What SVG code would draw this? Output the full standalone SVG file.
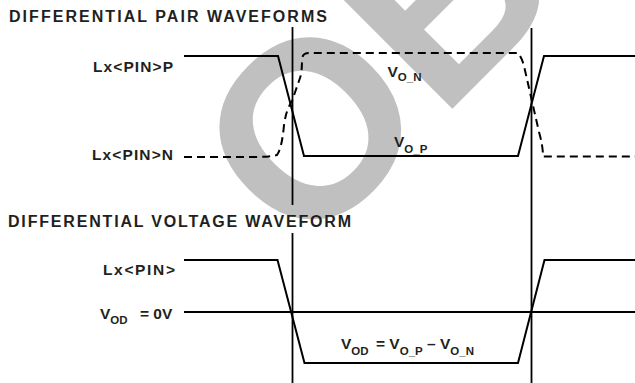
<svg xmlns="http://www.w3.org/2000/svg" width="635" height="383" viewBox="0 0 635 383">
<style>
.t{font-family:"Liberation Sans",Arial,Helvetica,sans-serif;font-weight:bold;fill:#231f20}
.ttl{font-size:16px}
.lb{font-size:15.5px}
.sub{font-size:11.5px}
.w{fill:none;stroke:#000;stroke-width:2;stroke-linejoin:miter}
.d{stroke-dasharray:8 5}
.v{fill:none;stroke:#000;stroke-width:1.8}
.wm{font-family:"Liberation Sans",Arial,sans-serif;font-weight:bold;font-size:250px;fill:#c0c0c0}
</style>
<g id="watermark">
<text class="wm" transform="translate(303,258) rotate(-45)" x="0" y="0">OB</text>
</g>
<g id="titles">
<text id="title-pair" class="t ttl" x="9" y="22" textLength="318" lengthAdjust="spacing">DIFFERENTIAL PAIR WAVEFORMS</text>
<text id="title-diff" class="t ttl" x="8" y="227" textLength="343" lengthAdjust="spacing">DIFFERENTIAL VOLTAGE WAVEFORM</text>
</g>
<g id="labels">
<text id="lbl-p" class="t lb" x="173" y="71.5" text-anchor="end" textLength="80" lengthAdjust="spacing">Lx&lt;PIN&gt;P</text>
<text id="lbl-n" class="t lb" x="173" y="160" text-anchor="end" textLength="81" lengthAdjust="spacing">Lx&lt;PIN&gt;N</text>
<text id="lbl-pin" class="t lb" x="175" y="275" text-anchor="end" textLength="72" lengthAdjust="spacing">Lx&lt;PIN&gt;</text>
<text id="lbl-vod0" class="t lb" x="100" y="318.5">V<tspan class="sub" dy="5">OD</tspan><tspan dy="-5" x="140">= 0V</tspan></text>
<text id="lbl-von" class="t lb" x="387.5" y="76.5">V<tspan class="sub" dy="4.5">O_N</tspan></text>
<text id="lbl-vop" class="t lb" x="394" y="147">V<tspan class="sub" dy="6">O_P</tspan></text>
<text id="lbl-vod" class="t lb" x="341" y="348.5">V<tspan class="sub" dy="6">OD</tspan><tspan dy="-6" x="376">= V</tspan><tspan class="sub" dy="6">O_P</tspan><tspan dy="-6"> – V</tspan><tspan class="sub" dy="6">O_N</tspan></text>
</g>
<g id="connectors">
<line id="mark-1a" class="v" x1="292.5" y1="27" x2="292.5" y2="205"/>
<line id="mark-1b" class="v" x1="292.5" y1="233" x2="292.5" y2="383"/>
<line id="mark-2" class="v" x1="531.5" y1="28" x2="531.5" y2="383"/>
<path id="wave-p" class="w" d="M184,56 L278,56 L304,156 L518,156 L544,56 L635,56"/>
<path id="wave-n" class="w d" d="M184,157 L255,157 Q268,157 277,155 Q282,148 284,125 Q286,110 292,101 L300,78 Q302,72 302,60 Q302,53 309,53 L518,53 Q522,58 524,66 L539,132 Q543,146 543,156.5 L635,156.5"/>
<path id="wave-pin" class="w" d="M184,260 L277.5,260 L304.5,363 L518,363 L544.5,260 L635,260"/>
<line id="wave-vod0" class="w" x1="184" y1="312" x2="635" y2="312"/>
</g>
</svg>
